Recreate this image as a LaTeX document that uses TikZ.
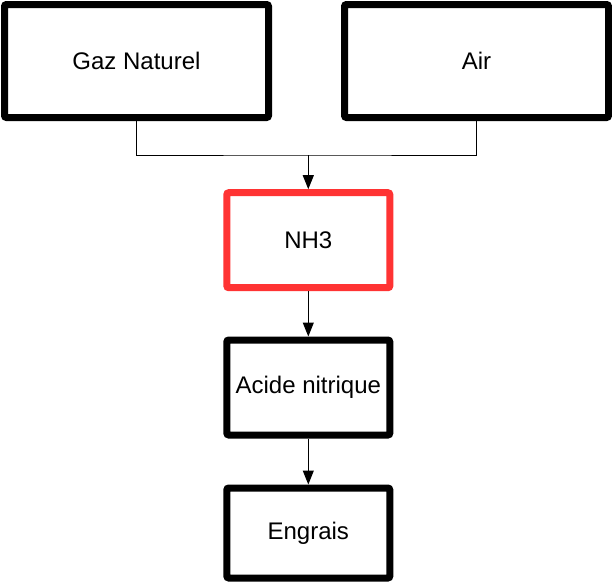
\documentclass[tikz,border=0pt]{standalone}
\usepackage{fontspec}
\setmainfont{Liberation Sans}
\usetikzlibrary{arrows.meta,positioning}

\definecolor{nhred}{HTML}{FF3333}

\begin{document}
\begin{tikzpicture}[
    x=1pt, y=-1pt,
    block/.style={rectangle, draw, line width=7pt, rounded corners=2pt, minimum width=163pt, minimum height=95pt, align=center, font=\fontsize{24}{28}\selectfont},
    bigblock/.style={block, minimum width=264pt, minimum height=113pt},
    link/.style={line width=1pt},
    arrow/.style={-{Triangle[length=14pt, width=11pt]}, line width=1pt}
]
\useasboundingbox (0,0) rectangle (612,582);

% Inputs
\node[bigblock] (gaz) at (136.5,61) {Gaz Naturel};
\node[bigblock] (air) at (476.5,61) {Air};

% Chain
\node[block, draw=nhred] (nh3) at (308.3,240.2) {NH3};
\node[block] (acide) at (308.3,387.5) {Acide nitrique};
\node[block, minimum height=90pt] (engrais) at (308.3,533) {Engrais};

% Connections
\coordinate (junction) at (308.3,155);
\draw[link] (gaz.south) |- (junction) -| (air.south);
\draw[arrow] (junction) -- (nh3);
\draw[arrow] (nh3) -- (acide);
\draw[arrow] (acide) -- (engrais);

\end{tikzpicture}
\end{document}
